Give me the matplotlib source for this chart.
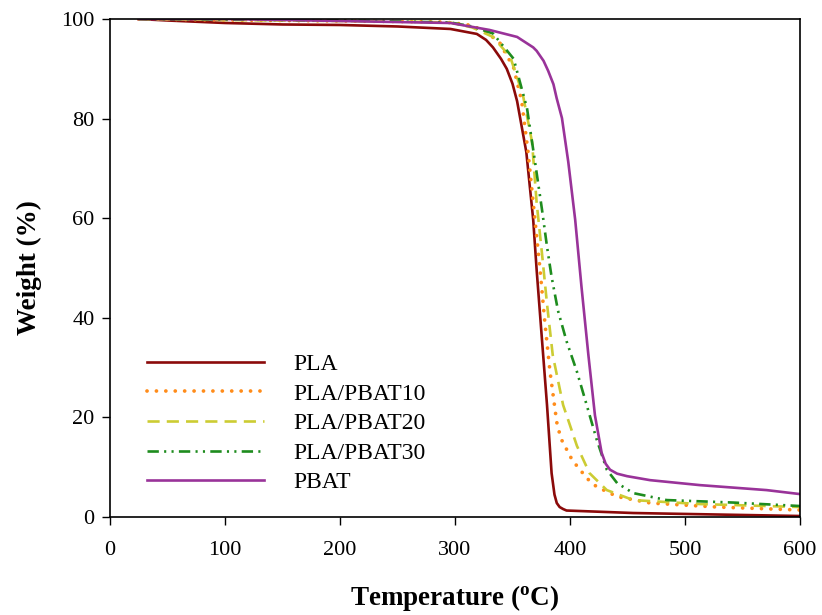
import matplotlib
matplotlib.use("Agg")
import matplotlib.pyplot as plt

plt.rcParams["font.family"] = ["Liberation Serif", "DejaVu Serif"]
plt.rcParams["mathtext.fontset"] = "custom"
plt.rcParams["mathtext.rm"] = "Liberation Serif"
plt.rcParams["mathtext.bf"] = "Liberation Serif:bold"

# TGA curves (temperature in degC, weight in %)
pla_t = [25, 50, 100, 150, 200, 250, 296, 319, 327, 333, 340, 345, 350, 354, 362, 368, 371,
         375.5, 380, 384, 386.5, 388.5, 391, 394, 397, 455, 600]
pla_w = [100, 99.7, 99.2, 98.9, 98.8, 98.5, 98.0, 97.0, 95.8, 94.3, 92.0, 90.0, 87.0, 83.5,
         73.3, 59.7, 49.6, 36, 22.5, 8.8, 4.5, 2.8, 2.0, 1.6, 1.3, 0.8, 0.2]

pb10_t = [25, 100, 200, 250, 290, 310, 325, 339, 351, 358, 363.5, 369.5, 374, 378, 382.6,
          388.5, 392, 397, 402, 408.7, 415, 423, 441, 470, 528, 600]
pb10_w = [100, 99.8, 99.6, 99.5, 99.4, 98.9, 97.8, 95.2, 90.2, 83.5, 73.3, 59.7, 49.6, 39.4,
          29.2, 19, 15.8, 13.6, 11.4, 9.5, 7.7, 6.1, 4.1, 2.8, 2.0, 1.4]

pb20_t = [25, 100, 200, 250, 296, 315, 333, 348, 359, 367, 371, 375.6, 380, 385, 394, 406,
          417, 432, 455, 513, 600]
pb20_w = [100, 99.8, 99.6, 99.5, 99.3, 98.3, 96.4, 92.4, 84.8, 75.3, 63.1, 53, 42.8, 32.5,
          22.5, 14.3, 8.8, 5.4, 3.4, 2.6, 2.0]

pb30_t = [25, 100, 200, 250, 296, 315, 333, 351, 362.6, 369.6, 375.6, 380, 384, 389.6, 397,
          406, 414.5, 423, 432, 441, 455, 484, 542, 600]
pb30_w = [100, 99.9, 99.7, 99.5, 99.3, 98.5, 97.1, 92, 82.1, 71.3, 61.8, 54.3, 48.2, 41.4,
          35.3, 29.2, 22.5, 15.7, 9.5, 6.8, 4.8, 3.4, 2.9, 2.2]

pbat_t = [25, 100, 200, 296, 330, 354, 368, 371, 377, 381, 385.6, 388.4, 393, 398.5, 404.5,
          410, 416, 421.7, 427.5, 431, 434.8, 441, 449.6, 469.6, 513, 571, 600]
pbat_w = [100, 100, 99.6, 99.2, 97.8, 96.4, 94.3, 93.6, 91.6, 89.6, 86.9, 84.1, 80.1, 71.3,
          59.7, 46.2, 32.5, 20.4, 12.9, 10.7, 9.5, 8.7, 8.2, 7.4, 6.4, 5.4, 4.6]

labels = ["PLA", "PLA/PBAT10", "PLA/PBAT20", "PLA/PBAT30", "PBAT"]
x_ticks = [0, 100, 200, 300, 400, 500, 600]
y_ticks = [0, 20, 40, 60, 80, 100]

fig = plt.figure(figsize=(8.22, 6.15), dpi=100)
ax = fig.add_axes([110 / 822, 1 - 517 / 615, 690 / 822, 498 / 615])

ax.plot(pla_t, pla_w, color="#8B0A0A", lw=1.9, label=labels[0])
ax.plot(pb10_t, pb10_w, color="#FF8C1A", lw=2.7, linestyle=(0, (0.01, 2.5)),
        dash_capstyle="round", label=labels[1])
ax.plot(pb20_t, pb20_w, color="#CCCC33", lw=1.9, linestyle=(0, (4.6, 2.7)), label=labels[2])
ax.plot(pb30_t, pb30_w, color="#1E8C1E", lw=1.9,
        linestyle=(0, (4.3, 2, 0.8, 2, 0.8, 2)), label=labels[3])
ax.plot(pbat_t, pbat_w, color="#993399", lw=1.9, label=labels[4])

ax.set_xlim(0, 600)
ax.set_ylim(0, 100)
ax.set_xticks(x_ticks)
ax.set_yticks(y_ticks)
ax.tick_params(direction="out", length=6, width=1, labelsize=16, colors="black")
ax.tick_params(axis="x", pad=11)
ax.tick_params(axis="y", pad=5)
for spine in ax.spines.values():
    spine.set_linewidth(1.2)

ax.set_xlabel(r"Temperature ($\mathbf{^{o}}$C)", fontsize=19.5, fontweight="bold", labelpad=17)
ax.set_ylabel("Weight (%)", fontsize=19.5, fontweight="bold", labelpad=14)

ax.legend(loc="upper left", bbox_to_anchor=(0.0536, 0.328), frameon=False, fontsize=17,
          handlelength=4.95, handletextpad=1.23, labelspacing=0.34, borderpad=0,
          borderaxespad=0)

fig.savefig("out.png", dpi=100)
